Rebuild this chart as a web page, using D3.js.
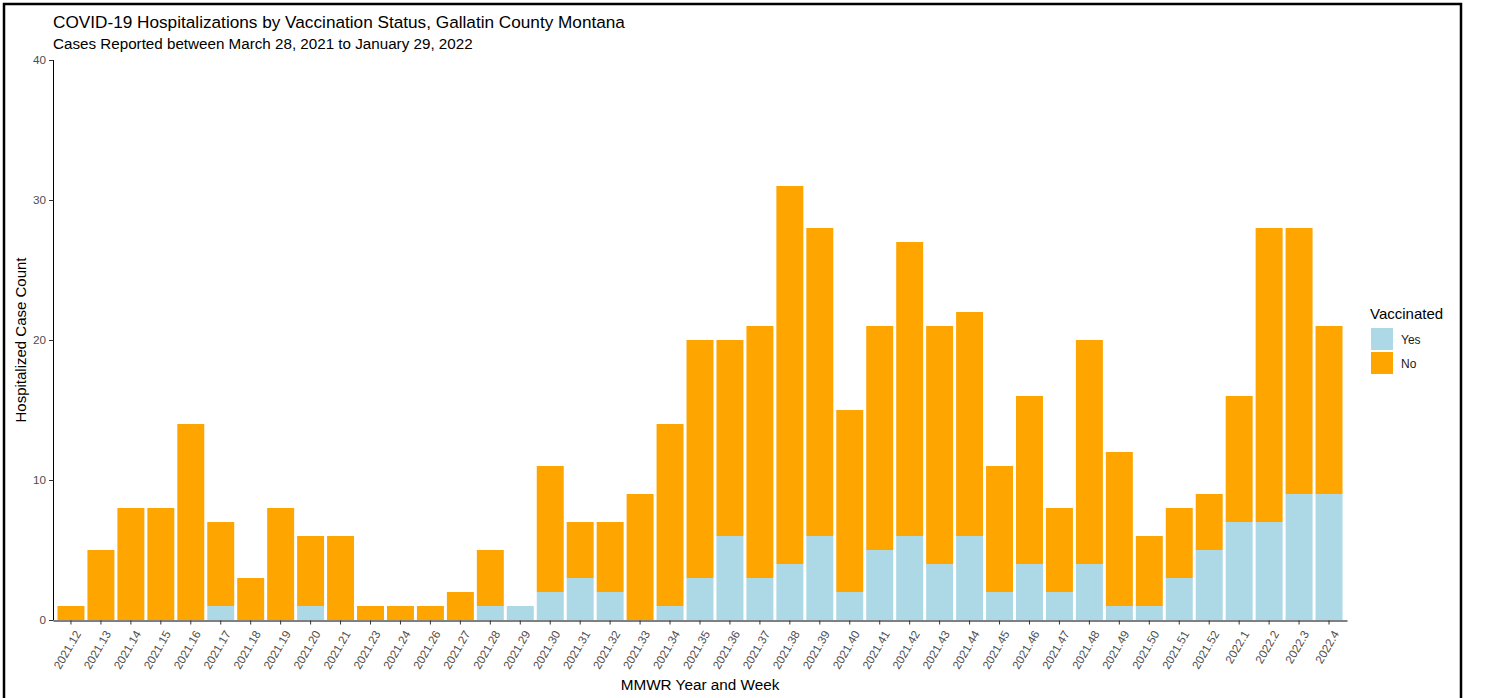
<!DOCTYPE html>
<html>
<head>
<meta charset="utf-8">
<script src="https://cdn.jsdelivr.net/npm/d3@7"></script>
<style>
  body { margin: 0; background: #fff; }
  svg text { font-family: "Liberation Sans", Arial, sans-serif; }
</style>
</head>
<body>
<svg id="chart"></svg>
<script>
// weeks, MMWR year.week
const weeks = ["2021.12","2021.13","2021.14","2021.15","2021.16","2021.17","2021.18","2021.19","2021.20","2021.21",
  "2021.23","2021.24","2021.26","2021.27","2021.28","2021.29","2021.30","2021.31","2021.32","2021.33","2021.34",
  "2021.35","2021.36","2021.37","2021.38","2021.39","2021.40","2021.41","2021.42","2021.43","2021.44","2021.45",
  "2021.46","2021.47","2021.48","2021.49","2021.50","2021.51","2021.52","2022.1","2022.2","2022.3","2022.4"];

const vaccinatedYes = [0,0,0,0,0,1,0,0,1,0, 0,0,0,0,1,1,2,3,2,0,1, 3,6,3,4,6,2,5,6,4,6,2, 4,2,4,1,1,3,5,7,7,9,9];
const vaccinatedNo  = [1,5,8,8,14,6,3,8,5,6, 1,1,1,2,4,0,9,4,5,9,13, 17,14,18,27,22,13,16,21,17,16,9, 12,6,16,11,5,5,4,9,21,19,12];

const yTicks = [0, 10, 20, 30, 40];
const statusKeys = ["Yes", "No"];
const statusColors = ["#ADD8E6", "#FFA500"];

const svgWidth = 1487;
const svgHeight = 698;

const svg = d3.select("#chart")
    .attr("width", svgWidth)
    .attr("height", svgHeight);

// outer frame
svg.append("rect")
    .attr("x", 4).attr("y", 4)
    .attr("width", 1457).attr("height", 800)
    .attr("fill", "none")
    .attr("stroke", "#000")
    .attr("stroke-width", 2.5);

const x = d3.scaleBand()
    .domain(weeks)
    .range([53, 1347])
    .paddingInner(0.1)
    .paddingOuter(0.15);

const y = d3.scaleLinear()
    .domain([0, 40])
    .range([620, 60]);

const color = d3.scaleOrdinal().domain(statusKeys).range(statusColors);

// build stack table from the arrays
const table = weeks.map((w, i) => ({ week: w, Yes: vaccinatedYes[i], No: vaccinatedNo[i] }));
const series = d3.stack().keys(statusKeys)(table);

svg.append("g")
  .selectAll("g")
  .data(series)
  .enter().append("g")
    .attr("fill", d => color(d.key))
  .selectAll("rect")
  .data(d => d)
  .enter().append("rect")
    .attr("x", d => x(d.data.week))
    .attr("y", d => y(d[1]))
    .attr("width", x.bandwidth())
    .attr("height", d => y(d[0]) - y(d[1]));

// y axis
const yAxis = svg.append("g")
    .attr("transform", "translate(53.5,0)")
    .call(d3.axisLeft(y).tickValues(yTicks).tickSize(4.5).tickPadding(3));
yAxis.select(".domain").attr("stroke", "#000").attr("d", "M0,60V620");
yAxis.selectAll(".tick line").attr("stroke", "#333");
yAxis.selectAll("text").attr("fill", "#4d4d4d").style("font-size", "11.7px");

// x axis
const xAxis = svg.append("g")
    .attr("transform", "translate(0,620.5)")
    .call(d3.axisBottom(x).tickSize(4).tickSizeOuter(0));
xAxis.select(".domain").attr("stroke", "#000");
xAxis.selectAll(".tick line").attr("stroke", "#333");
xAxis.selectAll("text")
    .attr("fill", "#4d4d4d")
    .style("font-size", "11.7px")
    .attr("text-anchor", "end")
    .attr("y", 0).attr("dy", 0)
    .attr("transform", "translate(10.5,13) rotate(-60)");

// titles
svg.append("text")
    .attr("x", 53).attr("y", 27.5)
    .style("font-size", "17.2px")
    .attr("fill", "#000")
    .text("COVID-19 Hospitalizations by Vaccination Status, Gallatin County Montana");

svg.append("text")
    .attr("x", 53).attr("y", 49.3)
    .style("font-size", "15.2px")
    .attr("fill", "#000")
    .text("Cases Reported between March 28, 2021 to January 29, 2022");

svg.append("text")
    .attr("x", 700).attr("y", 689.7)
    .attr("text-anchor", "middle")
    .style("font-size", "15.3px")
    .text("MMWR Year and Week");

svg.append("text")
    .attr("transform", "translate(26,340) rotate(-90)")
    .attr("text-anchor", "middle")
    .style("font-size", "15px")
    .text("Hospitalized Case Count");

// legend
const legend = svg.append("g").attr("transform", "translate(1370,0)");
legend.append("text")
    .attr("x", 0).attr("y", 319)
    .style("font-size", "15px")
    .text("Vaccinated");

statusKeys.forEach((k, i) => {
  legend.append("rect")
    .attr("x", 1).attr("y", 328 + i * 24)
    .attr("width", 22).attr("height", 22)
    .attr("fill", color(k));
  legend.append("text")
    .attr("x", 31).attr("y", 344 + i * 24)
    .style("font-size", "12px")
    .attr("fill", "#1a1a1a")
    .text(k);
});
</script>
</body>
</html>
